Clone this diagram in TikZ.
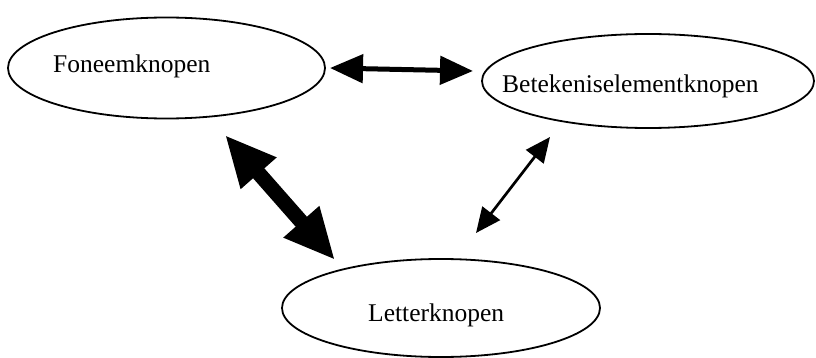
\documentclass[tikz,border=0pt]{standalone}
\usepackage{fontspec}
\setmainfont{Liberation Serif}
\usetikzlibrary{arrows.meta,shapes.geometric}
\tikzset{
  knoop/.style={draw=black, line width=1.8pt, ellipse, inner sep=0pt},
  lbl/.style={inner sep=0pt, anchor=base west, font=\fontsize{25.5}{30}\selectfont},
  dikpijl/.style={line width=15pt, {Triangle[length=51pt,width=44pt]}-{Triangle[length=51pt,width=44pt]}},
  middenpijl/.style={line width=5pt, {Triangle[length=33pt,width=28pt]}-{Triangle[length=33pt,width=28pt]}},
  dunpijl/.style={line width=2.7pt, {Triangle[length=25pt,width=22pt]}-{Triangle[length=25pt,width=22pt]}},
}
\begin{document}
\begin{tikzpicture}[x=1pt,y=1pt]
\useasboundingbox (0,0) rectangle (816,-358);
\fill[white] (0,0) rectangle (816,-358);
% ellipses
\node[knoop, minimum width=317pt, minimum height=101pt] (F) at (166.5,-68) {};
\node[knoop, minimum width=332pt, minimum height=94pt] (B) at (648,-81) {};
\node[knoop, minimum width=318pt, minimum height=98pt] (L) at (441,-308) {};
% labels
\node[lbl] (Ft) at (53,-73) {Foneemknopen};
\node[lbl] (Bt) at (502,-93) {Betekeniselementknopen};
\node[lbl] (Lt) at (368,-321) {Letterknopen};
% arrow end points near the ellipses
\coordinate (fb1) at (330,-68);
\coordinate (fb2) at (473,-71);
\coordinate (fl1) at (225,-135);
\coordinate (fl2) at (335,-260);
\coordinate (bl1) at (550,-137);
\coordinate (bl2) at (476,-233);
% connectors
\draw[middenpijl] (fb1) -- (fb2);
\draw[dikpijl] (fl1) -- (fl2);
\draw[dunpijl] (bl1) -- (bl2);
\end{tikzpicture}
\end{document}
